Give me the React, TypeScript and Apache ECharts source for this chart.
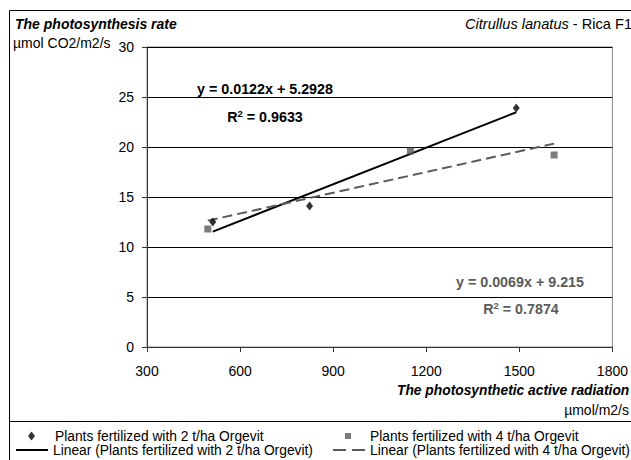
import React, { useEffect, useRef } from "react";
import * as echarts from "echarts";

// ---- data ----
const series1Name = "Plants fertilized with 2 t/ha Orgevit";
const series2Name = "Plants fertilized with 4 t/ha Orgevit";
const trend1Name = "Linear (Plants fertilized with 2 t/ha Orgevit)";
const trend2Name = "Linear (Plants fertilized with 4 t/ha Orgevit)";

const series1X = [512, 824, 1490];
const series1Y = [12.5, 14.1, 23.9];
const series2X = [496, 1149, 1612];
const series2Y = [11.8, 19.6, 19.2];

const trend1 = { slope: 0.0122, intercept: 5.2928, r2: 0.9633 };
const trend2 = { slope: 0.0069, intercept: 9.215, r2: 0.7874 };

const xTicks = [300, 600, 900, 1200, 1500, 1800];
const yTicks = [0, 5, 10, 15, 20, 25, 30];

const FONT = '"Liberation Sans Narrow", "Arial Narrow", "Liberation Sans", Arial, sans-serif';

function trendPoints(xs: number[], t: { slope: number; intercept: number }) {
  const lo = Math.min(...xs);
  const hi = Math.max(...xs);
  return [lo, hi].map((x) => [x, t.slope * x + t.intercept]);
}

function eqText(t: { slope: number; intercept: number }) {
  return `y = ${t.slope}x + ${t.intercept}`;
}

export default function App() {
  const ref = useRef<HTMLDivElement>(null);
  useEffect(() => {
    if (!ref.current) return;
    const chart = echarts.init(ref.current, null, { renderer: "svg" });
    const legendText = (padLeft: number) => ({
      formatter: (name: string) => `{a|${name}}`,
      textStyle: {
        rich: {
          a: { padding: [0, 0, 0, padLeft], fontSize: 13.8, fontFamily: FONT, color: "#000", lineHeight: 12 },
        },
      },
    });
    const legendBase = { padding: 0, selectedMode: false, orient: "horizontal" as const };
    const option: any = {
      animation: false,
      grid: {
        left: 147,
        right: 8,
        top: 47,
        bottom: 113,
        show: true,
        borderColor: "#8c8c8c",
        borderWidth: 1,
        backgroundColor: "transparent",
      },
      xAxis: {
        type: "value",
        min: xTicks[0],
        max: xTicks[xTicks.length - 1],
        interval: xTicks[1] - xTicks[0],
        axisLine: { show: true, onZero: false, lineStyle: { color: "#333", width: 1 } },
        axisTick: { show: true, inside: false, length: 5, lineStyle: { color: "#333" } },
        axisLabel: {
          margin: 17,
          fontSize: 14,
          fontFamily: FONT,
          color: "#000",
          formatter: (v: number) => String(v),
        },
        splitLine: { show: false },
      },
      yAxis: {
        type: "value",
        min: yTicks[0],
        max: yTicks[yTicks.length - 1],
        interval: yTicks[1] - yTicks[0],
        axisLine: { show: true, lineStyle: { color: "#333", width: 1 } },
        axisTick: { show: true, inside: false, length: 5, lineStyle: { color: "#333" } },
        axisLabel: { margin: 13, fontSize: 14, fontFamily: FONT, color: "#000" },
        splitLine: { show: true, lineStyle: { color: "#000", width: 1 } },
      },
      legend: [
        { ...legendBase, data: [series1Name], left: 28, top: 429, icon: "diamond", itemWidth: 7, itemHeight: 9, ...legendText(15) },
        { ...legendBase, data: [series2Name], left: 345, top: 429, icon: "rect", itemWidth: 6, itemHeight: 6, ...legendText(14) },
        {
          ...legendBase,
          data: [trend1Name],
          left: 15,
          top: 443,
          itemWidth: 32,
          itemHeight: 10,
          itemStyle: { opacity: 0 },
          ...legendText(0),
        },
        {
          ...legendBase,
          data: [trend2Name],
          left: 332,
          top: 443,
          itemWidth: 32,
          itemHeight: 10,
          itemStyle: { opacity: 0 },
          lineStyle: { type: [13, 6] },
          ...legendText(0),
        },
      ],
      series: [
        {
          name: series1Name,
          type: "scatter",
          symbol: "diamond",
          symbolSize: [7, 9],
          itemStyle: { color: "#000" },
          data: series1X.map((x, i) => [x, series1Y[i]]),
          z: 3,
        },
        {
          name: series2Name,
          type: "scatter",
          symbol: "rect",
          symbolSize: 7,
          itemStyle: { color: "#5a5a5a" },
          data: series2X.map((x, i) => [x, series2Y[i]]),
          z: 3,
        },
        {
          name: trend1Name,
          type: "line",
          symbol: "none",
          lineStyle: { color: "#000", width: 2, type: "solid" },
          itemStyle: { color: "#000" },
          data: trendPoints(series1X, trend1),
          z: 2,
        },
        {
          name: trend2Name,
          type: "line",
          symbol: "none",
          lineStyle: { color: "#5a5a5a", width: 2, type: [10, 5] },
          itemStyle: { color: "#5a5a5a" },
          data: trendPoints(series2X, trend2),
          z: 2,
        },
      ],
      graphic: [
        {
          type: "rect",
          shape: { x: 9.5, y: 10.5, width: 640, height: 470 },
          style: { fill: "none", stroke: "#000", lineWidth: 1 },
          silent: true,
        },
        {
          type: "line",
          shape: { x1: 9, y1: 421.5, x2: 640, y2: 421.5 },
          style: { stroke: "#000", lineWidth: 1 },
          silent: true,
        },
        {
          type: "text",
          x: 15,
          y: 24,
          style: {
            text: "The photosynthesis rate",
            fontFamily: FONT,
            fontSize: 14,
            fontWeight: "bold",
            fontStyle: "italic",
            fill: "#000",
            verticalAlign: "middle",
          },
        },
        {
          type: "text",
          x: 13,
          y: 43,
          style: {
            text: "µmol CO2/m2/s",
            fontFamily: FONT,
            fontSize: 14,
            fill: "#000",
            verticalAlign: "middle",
          },
        },
        {
          type: "text",
          x: 465,
          y: 24,
          style: {
            text: "{i|Citrullus lanatus}{n| - Rica F1}",
            rich: {
              i: { fontFamily: FONT, fontSize: 14.6, fontStyle: "italic", fill: "#000" },
              n: { fontFamily: FONT, fontSize: 14.6, fill: "#000" },
            },
            verticalAlign: "middle",
          },
        },
        {
          type: "text",
          x: 397,
          y: 390,
          style: {
            text: "The photosynthetic active radiation",
            fontFamily: FONT,
            fontSize: 13.8,
            fontWeight: "bold",
            fontStyle: "italic",
            fill: "#000",
            verticalAlign: "middle",
          },
        },
        {
          type: "text",
          x: 629,
          y: 410,
          style: {
            text: "µmol/m2/s",
            fontFamily: FONT,
            fontSize: 14,
            fill: "#000",
            align: "right",
            verticalAlign: "middle",
          },
        },
        {
          type: "text",
          x: 265,
          y: 89,
          style: {
            text: eqText(trend1),
            fontFamily: FONT,
            fontSize: 14.3,
            fontWeight: "bold",
            fill: "#000",
            align: "center",
            verticalAlign: "middle",
          },
        },
        {
          type: "text",
          x: 265,
          y: 117,
          style: {
            text: `{r|R}{s|2}{r| = ${trend1.r2}}`,
            rich: {
              r: { fontFamily: FONT, fontSize: 14.3, fontWeight: "bold", fill: "#000", lineHeight: 18 },
              s: { fontFamily: FONT, fontSize: 9.5, fontWeight: "bold", fill: "#000", lineHeight: 18, verticalAlign: "top" },
            },
            align: "center",
            verticalAlign: "middle",
          },
        },
        {
          type: "text",
          x: 520,
          y: 282,
          style: {
            text: eqText(trend2),
            fontFamily: FONT,
            fontSize: 14.3,
            fontWeight: "bold",
            fill: "#5a5a5a",
            align: "center",
            verticalAlign: "middle",
          },
        },
        {
          type: "text",
          x: 521,
          y: 309,
          style: {
            text: `{r|R}{s|2}{r| = ${trend2.r2}}`,
            rich: {
              r: { fontFamily: FONT, fontSize: 14.3, fontWeight: "bold", fill: "#5a5a5a", lineHeight: 18 },
              s: { fontFamily: FONT, fontSize: 9.5, fontWeight: "bold", fill: "#5a5a5a", lineHeight: 18, verticalAlign: "top" },
            },
            align: "center",
            verticalAlign: "middle",
          },
        },
      ],
    };
    chart.setOption(option);
    return () => chart.dispose();
  }, []);
  return (
    <div
      ref={ref}
      style={{ position: "fixed", left: 0, top: 0, width: 631, height: 460, background: "#fff" }}
    />
  );
}
